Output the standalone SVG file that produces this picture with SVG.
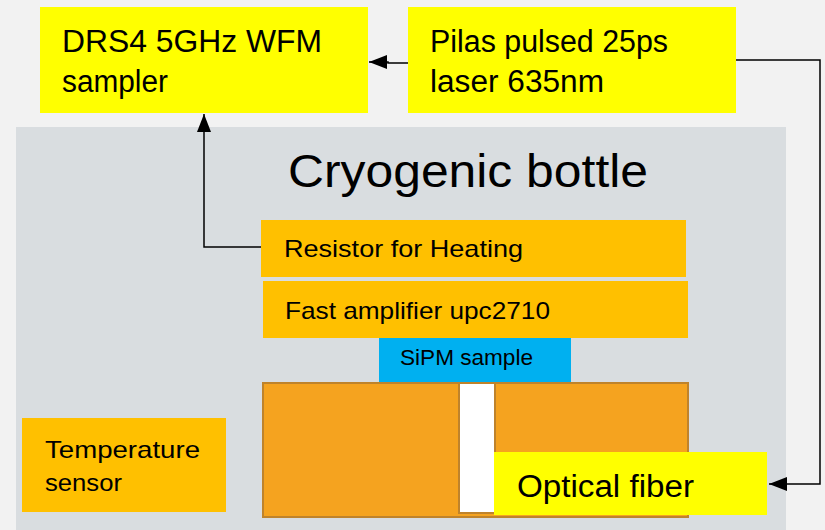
<svg xmlns="http://www.w3.org/2000/svg" width="825" height="530" viewBox="0 0 825 530">
<defs>
<style>
text{font-family:"Liberation Sans","DejaVu Sans",sans-serif;fill:#000}
.y{fill:#ffff00}
.o{fill:#ffc000}
.c{fill:none;stroke:#000;stroke-width:1.5}
</style>
<marker id="ah" viewBox="0 0 10 10" refX="10" refY="5" markerWidth="10" markerHeight="10" markerUnits="userSpaceOnUse" orient="auto">
<path d="M0,0 L10,5 L0,10 z" fill="#000"/>
</marker>
<marker id="ahb" viewBox="0 0 10 10" refX="10" refY="5" markerWidth="18" markerHeight="14" markerUnits="userSpaceOnUse" orient="auto" preserveAspectRatio="none">
<path d="M0,0 L10,5 L0,10 z" fill="#000"/>
</marker>
</defs>
<rect width="825" height="530" fill="#f2f2f2"/>
<g id="bottle">
<rect x="16" y="127" width="770" height="403" fill="#d9dde0"/>
<text x="468" y="187" font-size="46" text-anchor="middle" textLength="360" lengthAdjust="spacingAndGlyphs">Cryogenic bottle</text>
</g>
<g id="drs4">
<rect class="y" x="40" y="7" width="328" height="106"/>
<text x="62" y="52" font-size="31" textLength="260" lengthAdjust="spacingAndGlyphs">DRS4 5GHz WFM</text>
<text x="62" y="92" font-size="31" textLength="106" lengthAdjust="spacingAndGlyphs">sampler</text>
</g>
<g id="laser">
<rect class="y" x="408" y="7" width="328" height="106"/>
<text x="430" y="52" font-size="31" textLength="238" lengthAdjust="spacingAndGlyphs">Pilas pulsed 25ps</text>
<text x="430" y="92" font-size="31" textLength="174" lengthAdjust="spacingAndGlyphs">laser 635nm</text>
</g>
<g id="resistor">
<rect class="o" x="261" y="220" width="425" height="57"/>
<text x="284" y="257" font-size="24" textLength="239" lengthAdjust="spacingAndGlyphs">Resistor for Heating</text>
</g>
<g id="amplifier">
<rect class="o" x="263" y="281" width="425" height="57"/>
<text x="285" y="319" font-size="24" textLength="265" lengthAdjust="spacingAndGlyphs">Fast amplifier upc2710</text>
</g>
<g id="sipm">
<rect x="379" y="338" width="192" height="45" fill="#00b0f0"/>
<text x="400" y="365" font-size="22" textLength="133" lengthAdjust="spacingAndGlyphs">SiPM sample</text>
</g>
<g id="holder">
<rect x="263" y="383" width="425" height="134" fill="#f5a31f" stroke="#bf832b" stroke-width="2"/>
<rect x="459" y="383" width="36" height="130" fill="#ffffff" stroke="#bf832b" stroke-width="2"/>
</g>
<g id="fiber">
<rect class="y" x="494" y="452" width="273" height="63"/>
<text x="517" y="497" font-size="31" textLength="177" lengthAdjust="spacingAndGlyphs">Optical fiber</text>
</g>
<g id="temperature">
<rect class="o" x="22" y="418" width="204" height="94"/>
<text x="45" y="458" font-size="24" textLength="155" lengthAdjust="spacingAndGlyphs">Temperature</text>
<text x="45" y="491" font-size="24" textLength="77" lengthAdjust="spacingAndGlyphs">sensor</text>
</g>
<g id="connectors">
<path class="c" d="M408,63 L388,63 L388,62 L369,62" marker-end="url(#ahb)"/>
<path class="c" d="M261,247 L204,247 L204,114" marker-end="url(#ahb)"/>
<path class="c" d="M736,60 L820,60 L820,484 L769,484" marker-end="url(#ahb)"/>
</g>
</svg>
